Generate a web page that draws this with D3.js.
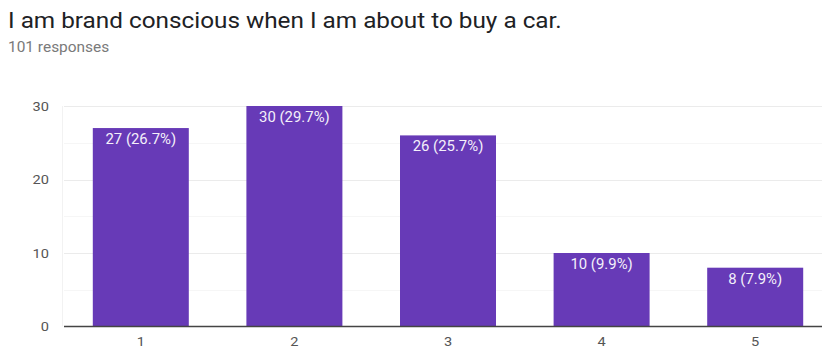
<!DOCTYPE html>
<html>
<head>
<meta charset="utf-8">
<script src="https://cdn.jsdelivr.net/npm/d3@7"></script>
<style>
  html, body { margin: 0; padding: 0; background: #fff; }
  svg { display: block; font-family: Roboto, Arial, sans-serif; }
</style>
</head>
<body>
<svg id="chart" width="822" height="352"></svg>
<script>
// Survey answers on a 1–5 scale and their counts
const categories = ["1", "2", "3", "4", "5"];
const counts = [27, 30, 26, 10, 8];
const percents = ["26.7%", "29.7%", "25.7%", "9.9%", "7.9%"];
const yTicks = [0, 10, 20, 30];
const yMinorTicks = [5, 15, 25];
const title = "I am brand conscious when I am about to buy a car.";
const subtitle = "101 responses";

const svg = d3.select("#chart");
const W = 822, H = 352;
const plot = { left: 64, right: 832, top: 106, bottom: 326.5 };
const STRETCH = 1.08; // text is set slightly wide

// Widen a text selection horizontally around its anchor
function widen(sel) {
  sel.each(function () {
    const w = this.getComputedTextLength();
    this.setAttribute("textLength", w * STRETCH);
    this.setAttribute("lengthAdjust", "spacingAndGlyphs");
  });
}

const x = d3.scaleBand()
  .domain(categories)
  .range([plot.left, plot.right])
  .paddingInner(0.375)
  .paddingOuter(0.1875);

const y = d3.scaleLinear()
  .domain([0, 30])
  .range([plot.bottom, plot.top]);

// Header
svg.append("text")
  .attr("x", 8).attr("y", 28)
  .attr("font-size", 22.5)
  .attr("fill", "#202124")
  .text(title)
  .call(widen);
svg.append("text")
  .attr("x", 8).attr("y", 52)
  .attr("font-size", 14.3)
  .attr("fill", "#7a7a7a")
  .text(subtitle)
  .call(widen);

// Gridlines: faint minor lines at the halfway points, light major lines
svg.append("g")
  .selectAll("line")
  .data(yMinorTicks)
  .join("line")
  .attr("x1", plot.left).attr("x2", W)
  .attr("y1", d => Math.round(y(d)) + 0.5).attr("y2", d => Math.round(y(d)) + 0.5)
  .attr("stroke", "#f6f6f6");

svg.append("g")
  .selectAll("line")
  .data(yTicks.filter(d => d > 0))
  .join("line")
  .attr("x1", plot.left).attr("x2", W)
  .attr("y1", d => Math.round(y(d)) + 0.5).attr("y2", d => Math.round(y(d)) + 0.5)
  .attr("stroke", "#ebebeb");

// Faint left edge of the plot area
svg.append("line")
  .attr("x1", plot.left - 1.5).attr("x2", plot.left - 1.5)
  .attr("y1", y(30)).attr("y2", y(0))
  .attr("stroke", "#f2f2f2");

// Y axis labels
const yAxis = d3.axisLeft(y).tickValues(yTicks).tickSize(0).tickPadding(0);
svg.append("g")
  .attr("transform", `translate(${plot.left - 15},0)`)
  .call(yAxis)
  .call(g => g.select(".domain").remove())
  .call(g => g.selectAll("text")
    .attr("font-size", 13.5)
    .attr("font-family", "Roboto, Arial, sans-serif")
    .attr("fill", "#555")
    .call(widen));

// Bars
svg.append("g")
  .selectAll("rect")
  .data(counts)
  .join("rect")
  .attr("x", (d, i) => x(categories[i]))
  .attr("y", d => y(d))
  .attr("width", x.bandwidth())
  .attr("height", d => y(0) - y(d))
  .attr("fill", "#673ab7");

// Value labels inside the top of each bar
svg.append("g")
  .selectAll("text")
  .data(counts)
  .join("text")
  .attr("x", (d, i) => x(categories[i]) + x.bandwidth() / 2)
  .attr("y", d => y(d) + 16)
  .attr("text-anchor", "middle")
  .attr("font-size", 13.8)
  .attr("fill", "#f4f0fa")
  .text((d, i) => `${d} (${percents[i]})`)
  .call(widen);

// Baseline
svg.append("line")
  .attr("x1", plot.left).attr("x2", W)
  .attr("y1", y(0)).attr("y2", y(0))
  .attr("stroke", "#444").attr("stroke-width", 1.5);

// X axis labels
const xAxis = d3.axisBottom(x).tickSize(0).tickPadding(0);
svg.append("g")
  .attr("transform", `translate(0,${y(0) + 10})`)
  .call(xAxis)
  .call(g => g.select(".domain").remove())
  .call(g => g.selectAll("text")
    .attr("font-size", 13.5)
    .attr("font-family", "Roboto, Arial, sans-serif")
    .attr("fill", "#555")
    .call(widen));
</script>
</body>
</html>
